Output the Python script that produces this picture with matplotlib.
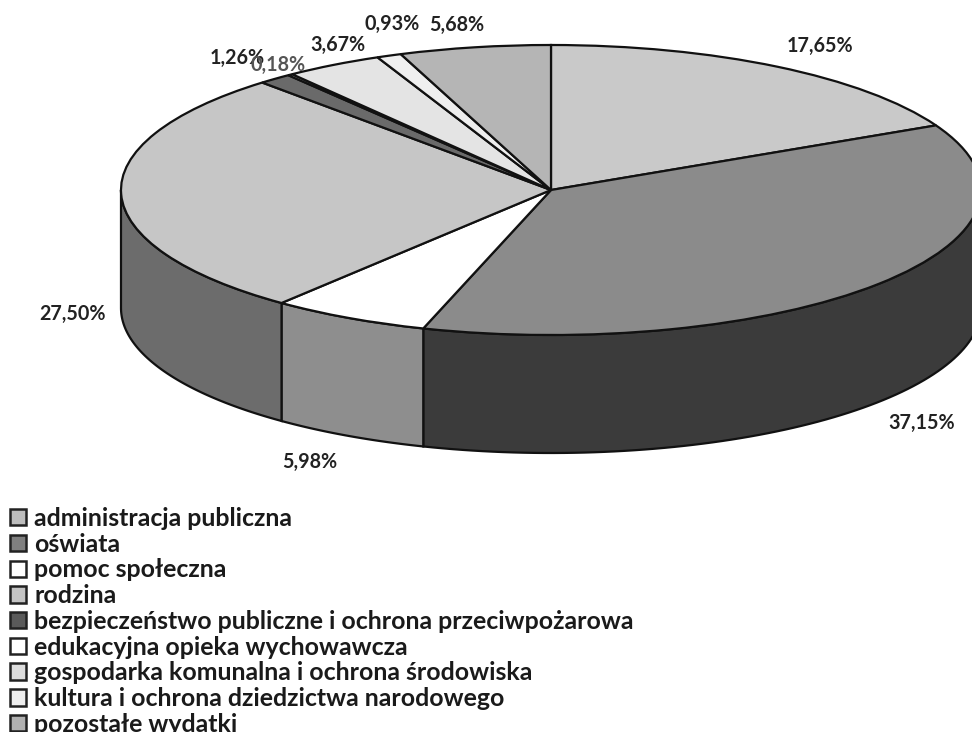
import numpy as np
import matplotlib
matplotlib.use('Agg')
import matplotlib.pyplot as plt
from matplotlib.patches import Patch

plt.rcParams['font.family'] = ['Lato', 'DejaVu Sans']
plt.rcParams['font.weight'] = 'bold'

categories = ['administracja publiczna', 'oświata', 'pomoc społeczna', 'rodzina',
              'bezpieczeństwo publiczne i ochrona przeciwpożarowa',
              'edukacyjna opieka wychowawcza',
              'gospodarka komunalna i ochrona środowiska',
              'kultura i ochrona dziedzictwa narodowego', 'pozostałe wydatki']
values = [17.65, 37.15, 5.98, 27.50, 1.26, 0.18, 3.67, 0.93, 5.68]
value_labels = ['17,65%', '37,15%', '5,98%', '27,50%', '1,26%', '0,18%', '3,67%', '0,93%', '5,68%']
top_colors = ['#c9c9c9', '#8b8b8b', '#ffffff', '#c6c6c6', '#6a6a6a', '#ffffff', '#e4e4e4', '#efefef', '#b5b5b5']
side_colors = ['#8a8a8a', '#3b3b3b', '#8e8e8e', '#6c6c6c', '#444444', '#999999', '#999999', '#999999', '#777777']
legend_colors = ['#bdbdbd', '#7f7f7f', '#ffffff', '#c4c4c4', '#5a5a5a', '#ffffff', '#dddddd', '#eeeeee', '#b0b0b0']
label_colors = ['#222222', '#222222', '#222222', '#222222', '#222222', '#555555', '#222222', '#222222', '#222222']

# pixel geometry of the tilted pie
W, H = 972, 732
cx, cy, rx, ry, depth = 551, 190, 430, 145, 118
label_px = [(820, 46), (922, 423), (310, 462), (72, 314), (237, 58), (278, 65), (338, 45), (392, 24), (457, 25)]

fig = plt.figure(figsize=(W / 100, H / 100), dpi=100)
ax = fig.add_axes([0, 0, 1, 1])


def to_data(px, py):
    return (px - cx) / rx, (cy - py) / ry


wedges, _ = ax.pie(values, colors=top_colors, startangle=90, counterclock=False,
                   wedgeprops={'edgecolor': '#111111', 'linewidth': 1.6, 'zorder': 3})
ax.set_aspect('auto')
ax.set_xlim(to_data(0, 0)[0], to_data(W, 0)[0])
ax.set_ylim(to_data(0, H)[1], to_data(0, 0)[1])
ax.axis('off')

# side wall, only the front half of the rim shows
d = depth / ry
ends = np.cumsum(values) / np.sum(values) * 360
starts = np.r_[0, ends[:-1]]
for a, b, c in zip(starts, ends, side_colors):
    a, b = max(a, 90), min(b, 270)
    if a >= b:
        continue
    t = np.radians(np.linspace(a, b, 80))
    xs, ys = np.sin(t), np.cos(t)
    ax.fill(np.r_[xs, xs[::-1]], np.r_[ys, ys[::-1] - d], facecolor=c,
            edgecolor='#111111', linewidth=1.6, zorder=2)

for s, (px, py), c in zip(value_labels, label_px, label_colors):
    x, y = to_data(px, py)
    ax.text(x, y, s, ha='center', va='center', fontsize=14.2, color=c, zorder=5)

handles = [Patch(facecolor=c, edgecolor='#222222', linewidth=1.8) for c in legend_colors]
leg = fig.legend(handles, categories, loc='upper left', bbox_to_anchor=(10 / W, 1 - 507 / H),
                 bbox_transform=fig.transFigure, frameon=False, fontsize=17.9,
                 handlelength=0.64, handleheight=0.64, handletextpad=0.34,
                 labelspacing=0.11, borderpad=0, borderaxespad=0, labelcolor='#1a1a1a')

fig.savefig('out.png', dpi=100)
